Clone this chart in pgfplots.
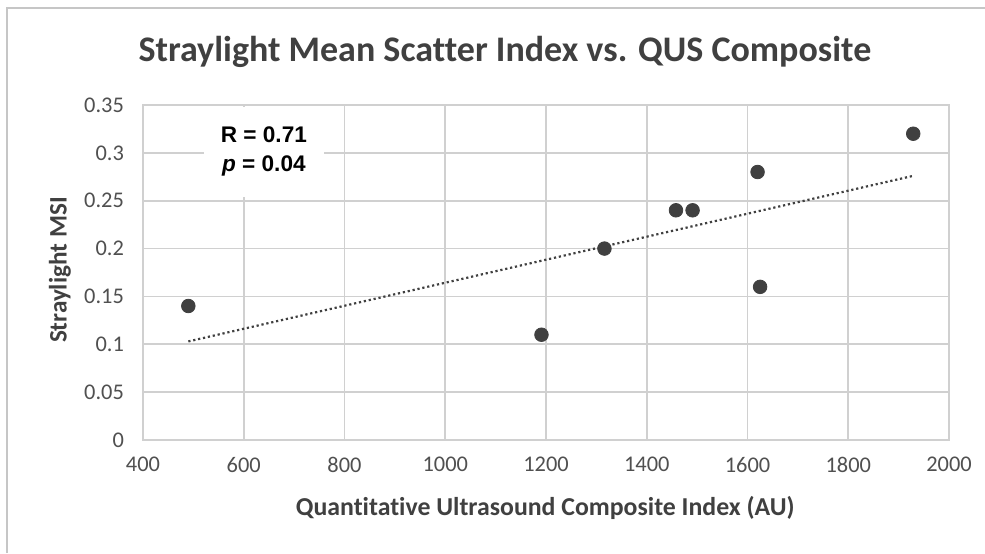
\documentclass[border=0pt]{standalone}
\usepackage{fontspec}
\setmainfont{Carlito}[Ligatures=NoCommon]
\newfontfamily\arialfont{Liberation Sans}
\usepackage{pgfplots}
\pgfplotsset{compat=1.18}
\definecolor{gridc}{HTML}{D0D0D0}
\definecolor{txt}{HTML}{505050}
\definecolor{dark}{HTML}{404040}
\begin{document}
\begin{tikzpicture}[x=1pt,y=1pt]
\path[use as bounding box, fill=white] (0,0) rectangle (492.5,276.5);
\draw[gray!45, line width=1.2pt] (3.5,0) -- (3.5,272.5) -- (492.5,272.5);
\begin{axis}[
  at={(71.5pt,56.5pt)}, anchor=south west,
  scale only axis, width=403pt, height=167.5pt,
  xmin=400, xmax=2000, ymin=0, ymax=0.35,
  xtick={400,600,800,1000,1200,1400,1600,1800,2000},
  xticklabels={400,600,800,1000,1200,1400,1600,1800,2000},
  ytick={0,0.05,0.1,0.15,0.2,0.25,0.3,0.35},
  yticklabels={0,0.05,0.1,0.15,0.2,0.25,0.3,0.35},
  grid=major, grid style={gridc, line width=0.9pt},
  axis line style={gridc, line width=0.9pt},
  major tick length=0pt,
  tick label style={font=\fontsize{11.2}{13}\selectfont, text=txt},
  xticklabel style={yshift=-5pt},
  yticklabel style={xshift=-6pt},
  /pgf/number format/assume math mode=true,
  title={Straylight Mean Scatter Index vs. QUS Composite},
  title style={at={(axis description cs:0.449,1.122)}, anchor=center,
    font=\bfseries\fontsize{18}{21}\selectfont, text=dark},
  xlabel={Quantitative Ultrasound Composite Index (AU)},
  xlabel style={at={(axis description cs:0.499,-0.203)}, anchor=center,
    font=\bfseries\fontsize{12.9}{15}\selectfont, text=dark},
  ylabel={Straylight MSI},
  ylabel style={at={(axis description cs:-0.103,0.507)}, anchor=center,
    font=\bfseries\fontsize{12.6}{15}\selectfont, text=dark},
]
\addplot[dark, line width=1.1pt, dash pattern=on 1.1pt off 1.4pt] coordinates {(490,0.103) (1929,0.276)};
\addplot[only marks, mark=*, mark size=3.4pt, dark, mark options={fill=dark, draw=dark}] coordinates {
  (490,0.14) (1191,0.11) (1316,0.20) (1458,0.24) (1491,0.24) (1620,0.28) (1625,0.16) (1929,0.32)
};
\node[fill=white, minimum width=60pt, minimum height=45pt, align=center, inner sep=0pt,
  font=\arialfont\bfseries\fontsize{11.3}{14.5}\selectfont] at (axis cs:640,0.301)
  {R = 0.71\\\textit{p} = 0.04};
\end{axis}
\end{tikzpicture}
\end{document}
